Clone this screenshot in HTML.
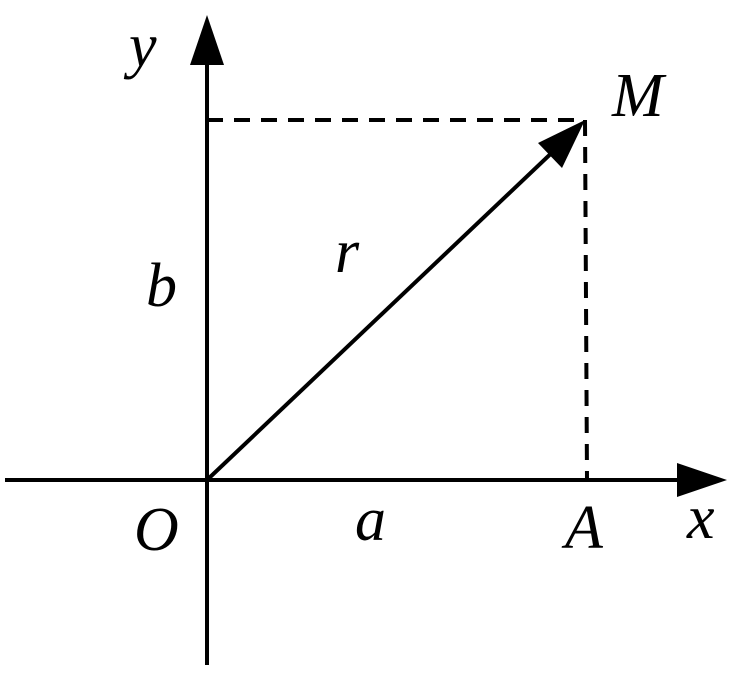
<!DOCTYPE html>
<html><head><style>body{margin:0;background:#fff}svg{display:block}</style></head>
<body>
<svg width="740" height="675" xmlns="http://www.w3.org/2000/svg">
<g stroke="#000" stroke-width="4" fill="none">
<line x1="207" y1="665" x2="207" y2="60"/>
<line x1="5" y1="480" x2="685" y2="480"/>
<line x1="207" y1="120" x2="585" y2="120" stroke-dasharray="16,11"/>
<line x1="585" y1="120" x2="587" y2="480" stroke-dasharray="16,11"/>
<line x1="207" y1="480" x2="560" y2="145"/>
</g>
<g fill="#000">
<polygon points="207,15 190,65 224,65"/>
<polygon points="727,480 677,463 677,497"/>
<polygon points="585,120 538,143 562,168"/>
</g>
<g font-family="Liberation Serif, serif" font-style="italic" font-size="62" fill="#000">
<text x="129" y="66">y</text>
<text x="612" y="116">M</text>
<text x="335" y="272">r</text>
<text x="146" y="306">b</text>
<text x="134" y="550">O</text>
<text x="355" y="540">a</text>
<text x="565" y="548">A</text>
<text x="687" y="538">x</text>
</g>
</svg>
</body></html>
